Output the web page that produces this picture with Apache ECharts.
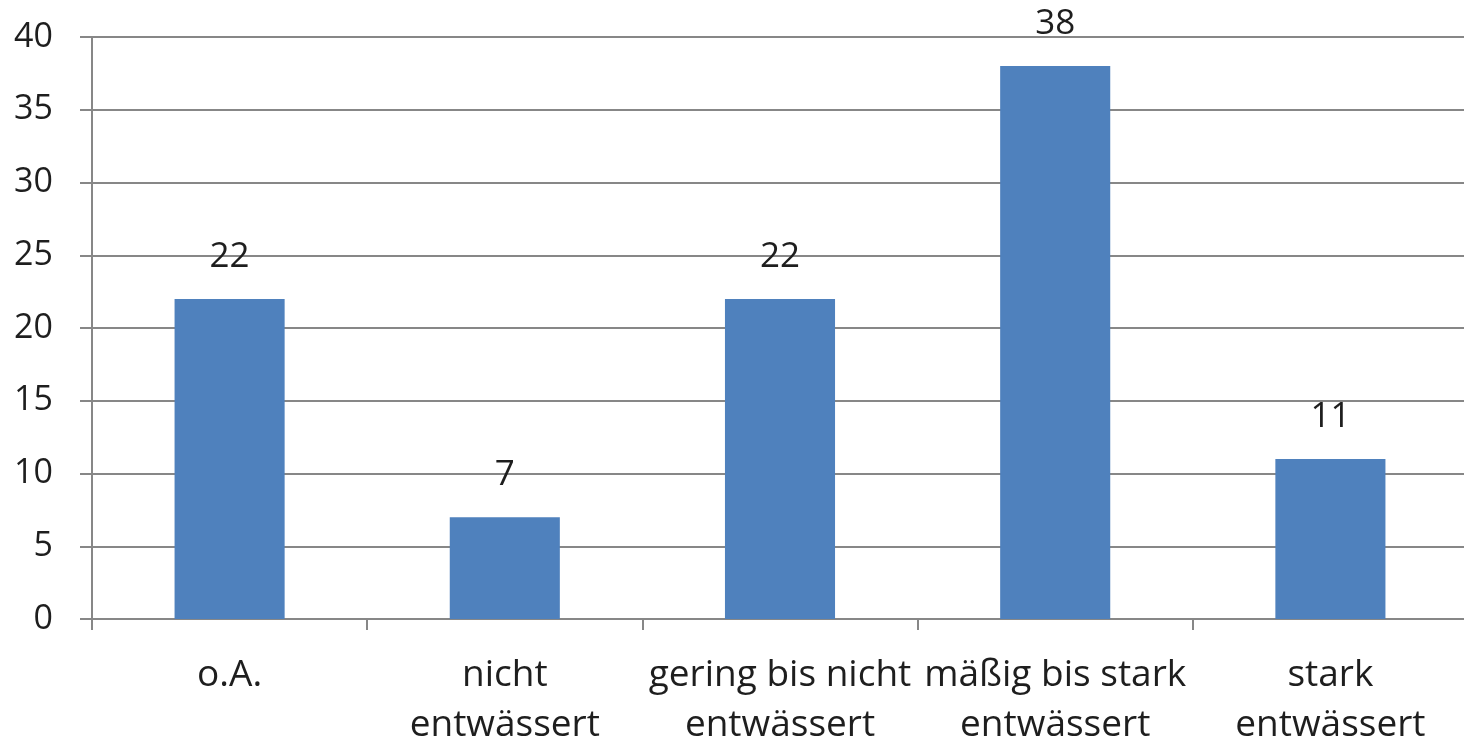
<!DOCTYPE html>
<html>
<head>
<meta charset="utf-8">
<script src="https://cdn.jsdelivr.net/npm/echarts@6/dist/echarts.min.js"></script>
<style>
html,body{margin:0;padding:0;background:#fff;overflow:hidden;}
#chart{width:1464px;height:741px;}
</style>
</head>
<body>
<div id="chart"></div>
<script>
const categories = ['o.A.', 'nicht\nentwässert', 'gering bis nicht\nentwässert', 'mäßig bis stark\nentwässert', 'stark\nentwässert'];
const values = [22, 7, 22, 38, 11];
const yTicks = { min: 0, max: 40, interval: 5 };

const FONT = 'Open Sans';
const TEXT = '#1e1e1e';
const LINE = '#878787';

const chart = echarts.init(document.getElementById('chart'));
chart.setOption({
  animation: false,
  grid: { left: 92, right: -4, top: 37, bottom: 122, containLabel: false, outerBoundsMode: 'none' },
  xAxis: {
    type: 'category',
    data: categories,
    axisLine: { lineStyle: { color: LINE, width: 2 } },
    axisTick: { show: true, length: 11, alignWithLabel: false, lineStyle: { color: LINE, width: 2 } },
    axisLabel: { interval: 0, margin: 31, color: TEXT, fontFamily: FONT, fontSize: 37, lineHeight: 50 }
  },
  yAxis: {
    type: 'value',
    min: yTicks.min, max: yTicks.max, interval: yTicks.interval,
    axisLine: { show: true, lineStyle: { color: LINE, width: 2 } },
    axisTick: { show: true, length: 12, lineStyle: { color: LINE, width: 2 } },
    splitLine: { show: true, lineStyle: { color: LINE, width: 2 } },
    axisLabel: { margin: 39, color: TEXT, fontFamily: FONT, fontSize: 34 }
  },
  series: [{
    type: 'bar',
    data: values,
    barWidth: '40%',
    itemStyle: { color: '#4F81BD' },
    label: { show: true, position: 'top', distance: 24, color: TEXT, fontFamily: FONT, fontSize: 35, lineHeight: 36 }
  }]
});
</script>
</body>
</html>
